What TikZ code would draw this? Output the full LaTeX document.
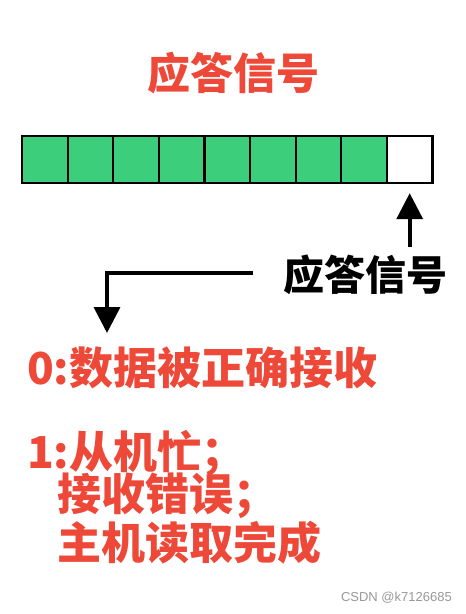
\documentclass[tikz,border=0pt]{standalone}
\usepackage{fontspec}
\setmainfont{Noto Sans CJK SC}
\newfontfamily\wmfont{Liberation Sans}
\usetikzlibrary{arrows.meta,calc}
\definecolor{cellgreen}{RGB}{60,206,122}
\definecolor{txtred}{RGB}{238,72,56}
\tikzset{
  cell/.style={draw=black,line width=2.2pt,minimum width=45.6pt,minimum height=47pt,inner sep=0pt,anchor=north west},
  bigtxt/.style={inner sep=0pt,font=\fontsize{43}{45}\selectfont\bfseries},
  redline/.style={inner sep=0pt,font=\fontsize{44}{46}\selectfont\bfseries,text=txtred,anchor=west},
  arr/.style={line width=3.6pt,-{Triangle[width=26pt,length=26pt]}},
}
\begin{document}
\begin{tikzpicture}[x=1pt,y=-1pt]
\useasboundingbox[fill=white] (0,0) rectangle (466,614);
\node[bigtxt,text=txtred] (title) at (233,73) {应答信号};
\foreach \i in {1,...,8}{
  \node[cell,fill=cellgreen] (c\i) at ({21+(\i-1)*45.6},135) {};
}
\node[cell,fill=white] (c9) at ({21+8*45.6},135) {};
\node[bigtxt,text=black,font=\fontsize{41}{43}\selectfont\bfseries] (lab) at (365,275) {应答信号};
\node[redline] (l0) at (27,368) {0:数据被正确接收};
\node[redline] (l1) at (27,453) {1:从机忙；};
\node[redline] (l2) at (57,496) {接收错误；};
\node[redline] (l3) at (57,543) {主机读取完成};
\node[inner sep=0pt,text=gray!80,font=\wmfont\fontsize{13}{15}\selectfont,anchor=east] (wm) at (452,598) {CSDN @k7126685};
\coordinate (tip) at (107,333);
\draw[arr] ($(lab.north -| c9.south)+(0,-8)$) -- ($(c9.south)+(0,9)$);
\draw[arr] ($(lab.west)+(-30,-2)$) -| (tip);
\end{tikzpicture}
\end{document}
